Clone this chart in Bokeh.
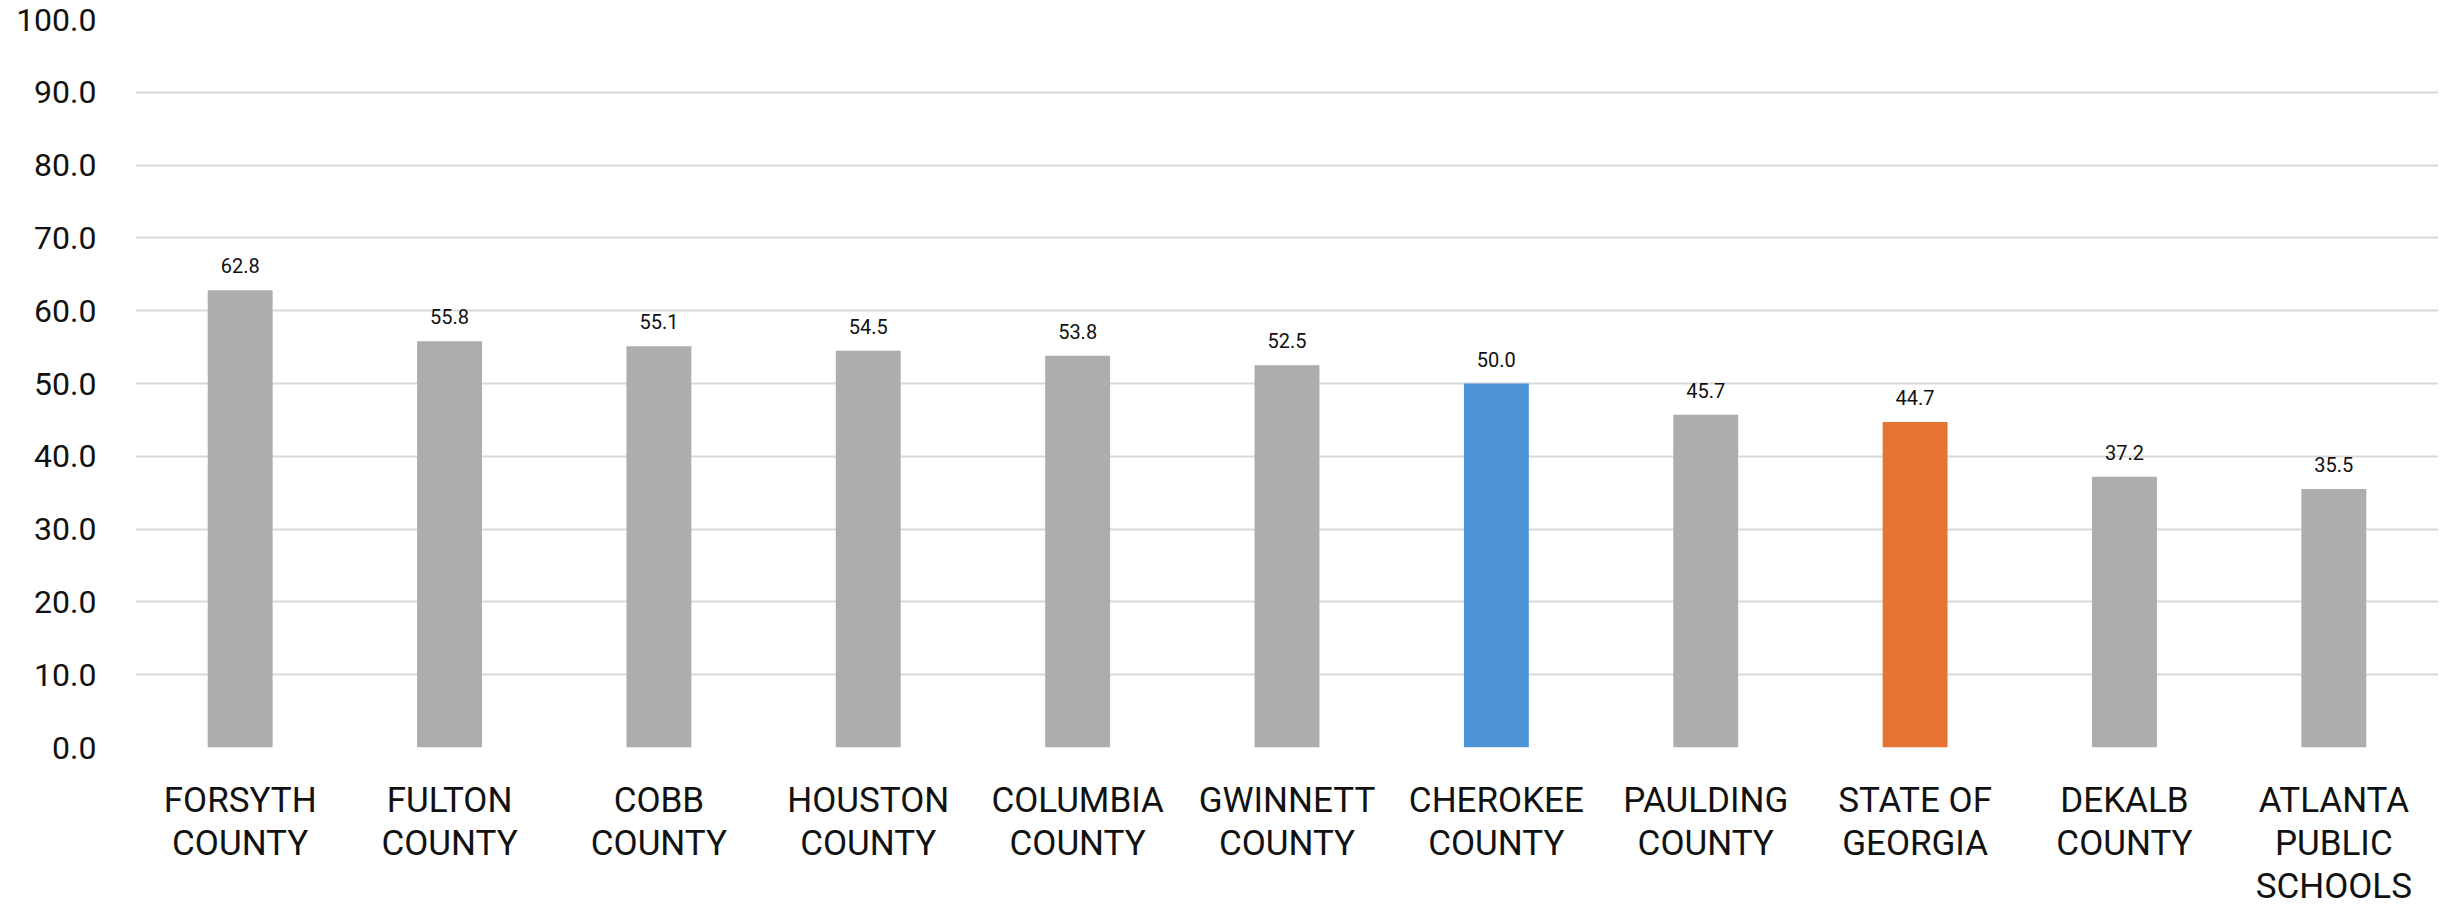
from bokeh.plotting import figure
from bokeh.models import ColumnDataSource, FixedTicker, NumeralTickFormatter, Range1d, FactorRange
from bokeh.core.properties import value
from bokeh.embed import file_html
from bokeh.resources import INLINE

categories = ["FORSYTH COUNTY", "FULTON COUNTY", "COBB COUNTY", "HOUSTON COUNTY",
              "COLUMBIA COUNTY", "GWINNETT COUNTY", "CHEROKEE COUNTY", "PAULDING COUNTY",
              "STATE OF GEORGIA", "DEKALB COUNTY", "ATLANTA PUBLIC SCHOOLS"]
tick_labels = ["FORSYTH\nCOUNTY", "FULTON\nCOUNTY", "COBB\nCOUNTY", "HOUSTON\nCOUNTY",
               "COLUMBIA\nCOUNTY", "GWINNETT\nCOUNTY", "CHEROKEE\nCOUNTY", "PAULDING\nCOUNTY",
               "STATE OF\nGEORGIA", "DEKALB\nCOUNTY", "ATLANTA\nPUBLIC\nSCHOOLS"]
values = [62.8, 55.8, 55.1, 54.5, 53.8, 52.5, 50.0, 45.7, 44.7, 37.2, 35.5]
colors = ["#ADADAD", "#ADADAD", "#ADADAD", "#ADADAD", "#ADADAD", "#ADADAD",
          "#4F93D8", "#ADADAD", "#E87434", "#ADADAD", "#ADADAD"]
y_ticks = [0, 10, 20, 30, 40, 50, 60, 70, 80, 90, 100]

FONT = "Roboto"

src = ColumnDataSource(dict(cat=categories, val=values, color=colors,
                            lbl=[f"{v:.1f}" for v in values],
                            tick=tick_labels, zero=[0] * len(values)))

p = figure(x_range=FactorRange(*categories, range_padding=0), y_range=Range1d(0, 100),
           width=2438, height=898, output_backend="svg", toolbar_location=None,
           min_border_left=135, min_border_right=0, min_border_top=19, min_border_bottom=151)
p.outline_line_color = None
p.background_fill_color = "white"
p.border_fill_color = "white"

p.vbar(x="cat", top="val", width=0.31, bottom=0, source=src, fill_color="color",
       line_color=None)
p.text(x="cat", y="val", text="lbl", source=src, y_offset=-17,
       text_align="center", text_baseline="bottom", text_font=value(FONT),
       text_font_size="20px", text_color="#111111")
p.text(x="cat", y="zero", text="tick", source=src, y_offset=32, level="overlay",
       text_align="center", text_baseline="top", text_font=value(FONT),
       text_font_size="35px", text_color="#111111", text_line_height=1.06)

p.xgrid.grid_line_color = None
p.ygrid.grid_line_color = "#D9D9D9"
p.ygrid.grid_line_width = 2
p.ygrid.ticker = FixedTicker(ticks=y_ticks)

p.yaxis.ticker = FixedTicker(ticks=y_ticks)
p.yaxis.formatter = NumeralTickFormatter(format="0.0")
p.yaxis.axis_line_color = None
p.yaxis.major_tick_line_color = None
p.yaxis.minor_tick_line_color = None
p.yaxis.major_label_standoff = 33
p.yaxis.major_label_text_font = FONT
p.yaxis.major_label_text_font_size = "32px"
p.yaxis.major_label_text_color = "#111111"
p.yaxis.major_label_text_line_height = 0.9

p.xaxis.visible = False

open("out.html", "w").write(file_html(p, INLINE))
